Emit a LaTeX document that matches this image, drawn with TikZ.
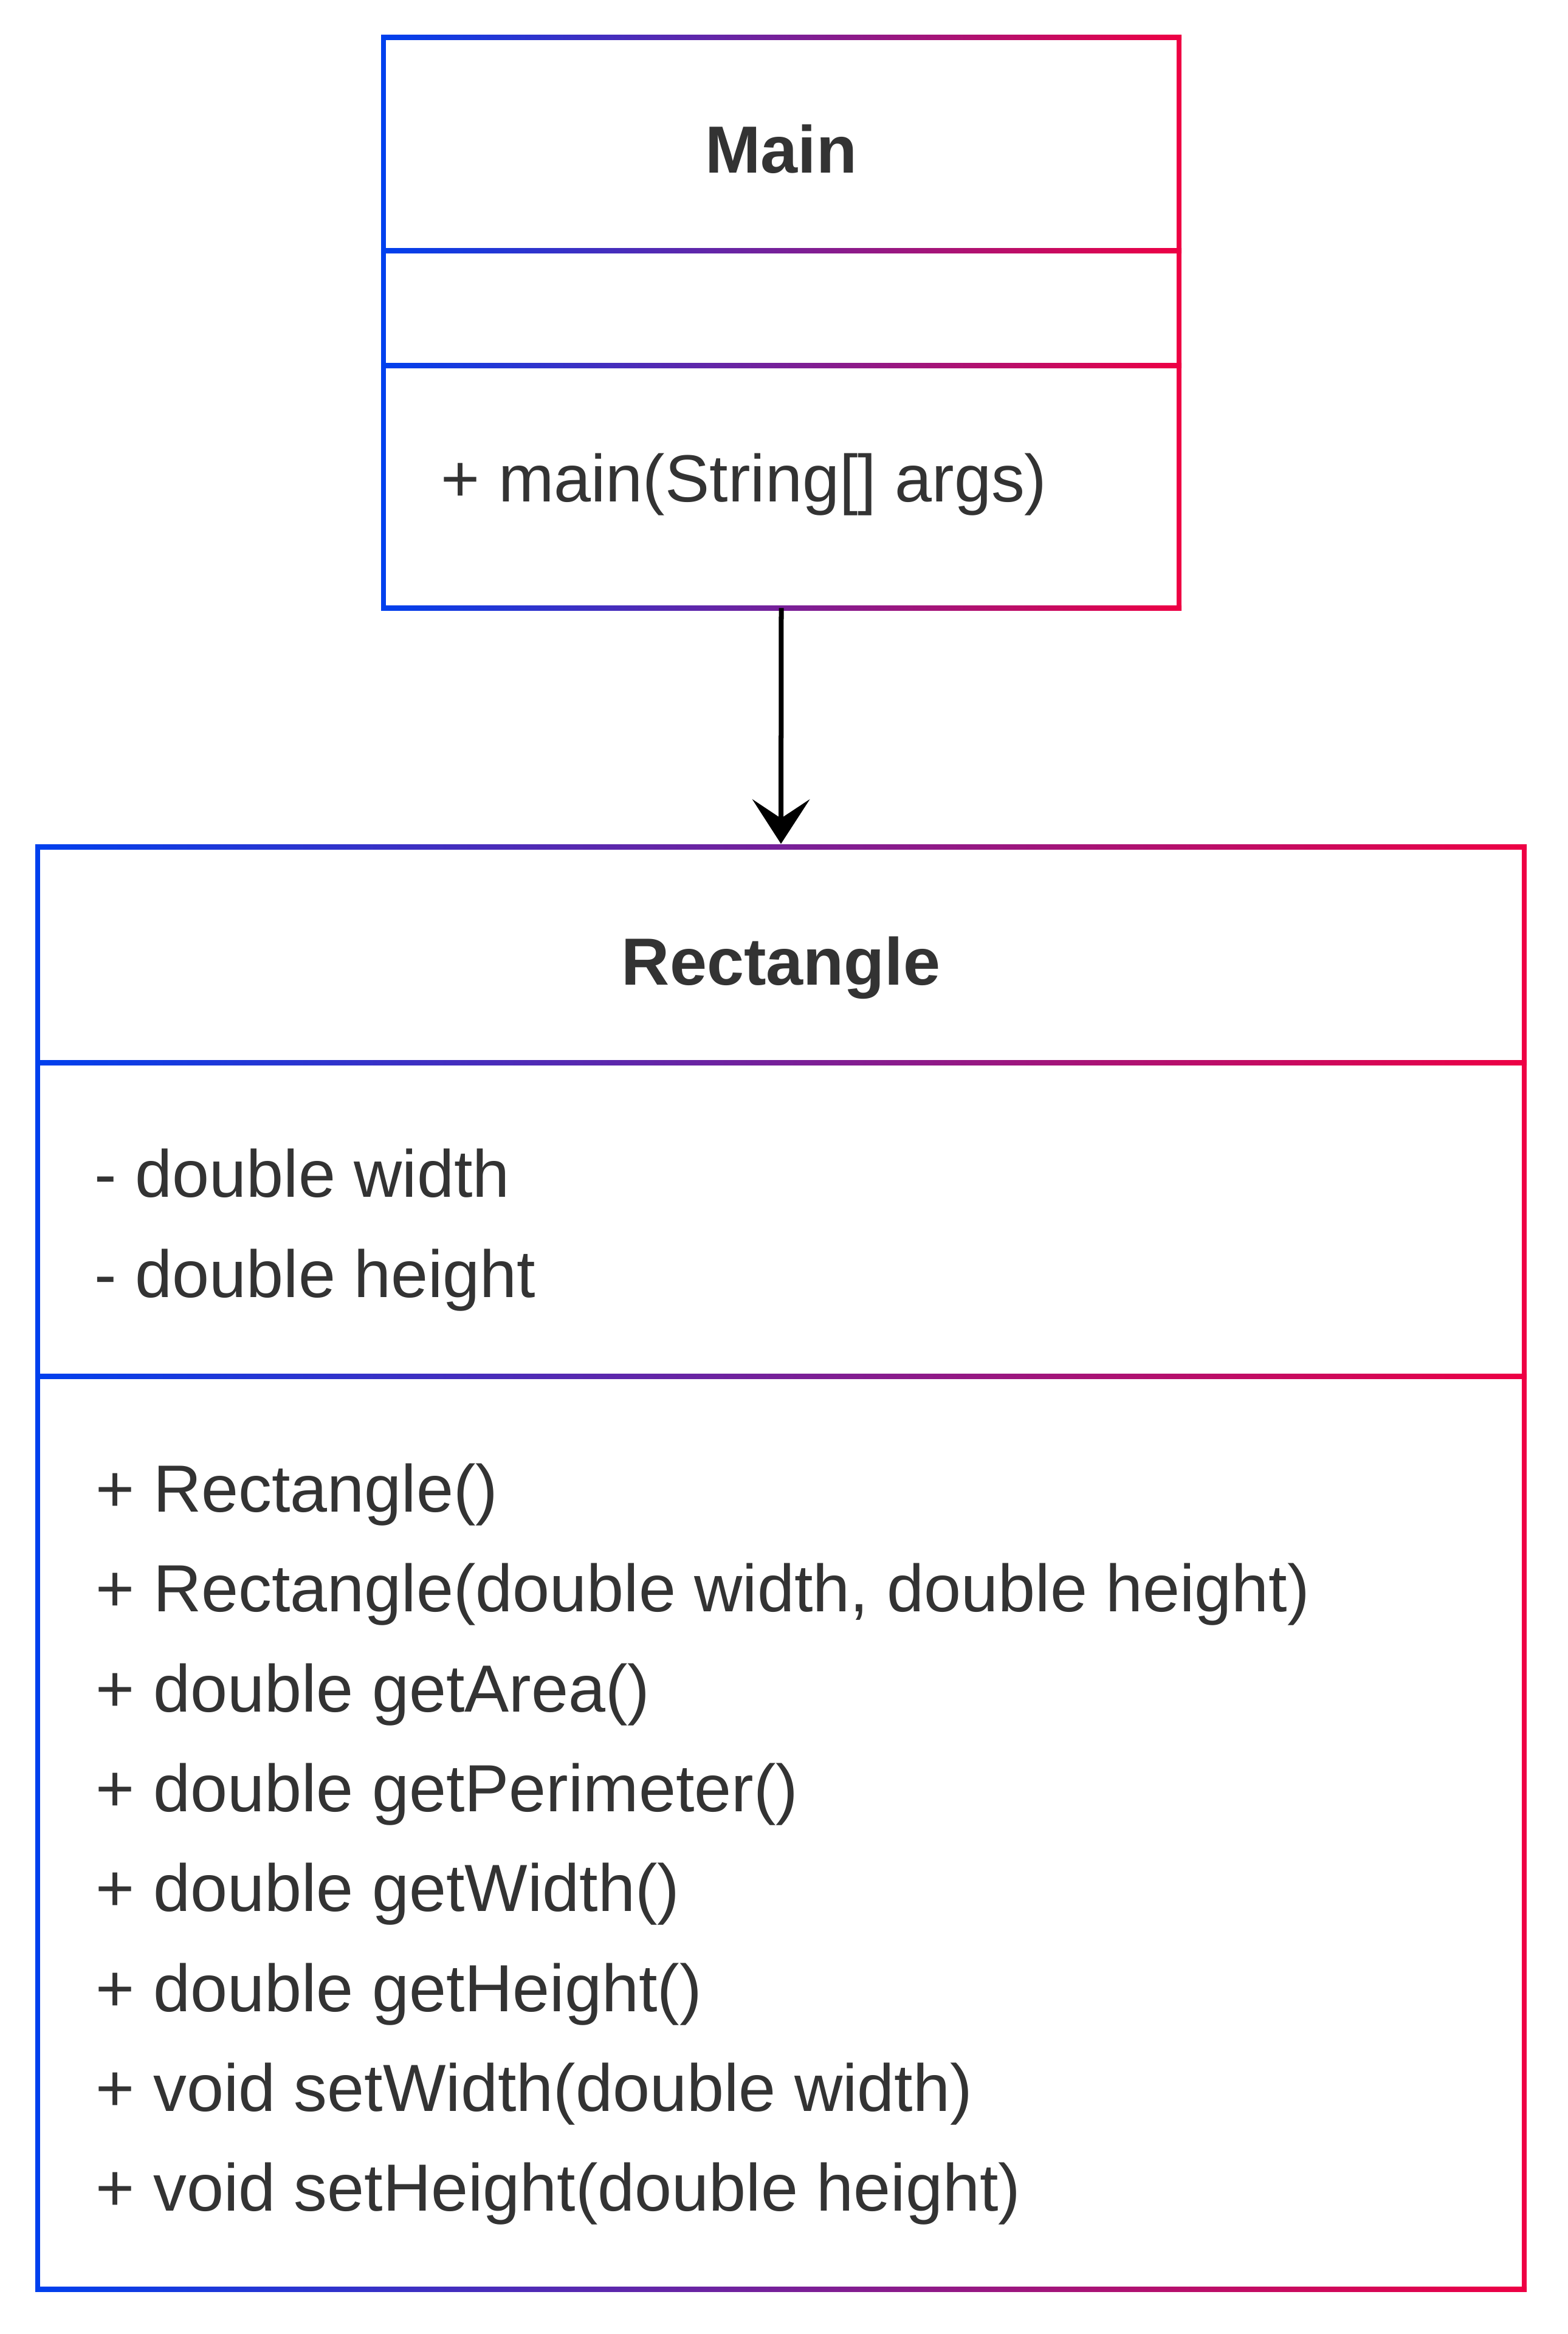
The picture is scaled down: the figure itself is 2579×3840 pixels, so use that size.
\documentclass[tikz,border=0pt]{standalone}
\usepackage{fontspec}
\setmainfont{Liberation Sans}
\usetikzlibrary{arrows.meta}
\definecolor{cblue}{HTML}{0040EE}
\definecolor{cred}{HTML}{EE0044}
\definecolor{txt}{HTML}{333333}
\newcommand\hgrad[3]{\shade[left color=cblue,right color=cred] (#1-4,#3-4) rectangle (#2+4,#3+4);}
\newcommand\vbarline[4]{\fill[#1] (#2-4,#3-4) rectangle (#2+4,#4+4);}
\begin{document}
\begin{tikzpicture}[x=0.01cm,y=-0.01cm,
  boxarea/.style={draw=none, inner sep=0pt, outer sep=0pt},
  title/.style={anchor=base, inner sep=0pt, text=txt, font=\fontsize{31.2}{38}\selectfont\bfseries},
  member/.style={anchor=base west, inner sep=0pt, text=txt, font=\fontsize{31.2}{38}\selectfont},
  link/.style={line width=0.08cm, shorten >=0.04cm, -{Stealth[length=0.735cm,width=0.95cm,inset=0.315cm,line width=0pt 0]}}]
\useasboundingbox[fill=white] (0,0) rectangle (2579,3840);
% boxes (areas)
\node[boxarea, minimum width=13.09cm, minimum height=9.38cm] (main) at (1285.5,531) {};
\node[boxarea, minimum width=24.46cm, minimum height=23.73cm] (rect) at (1285,2579.5) {};
% Main box lines
\hgrad{631}{1940}{62}
\hgrad{631}{1940}{413}
\hgrad{631}{1940}{602}
\hgrad{631}{1940}{1000}
\vbarline{cblue}{631}{62}{1000}
\vbarline{cred}{1940}{62}{1000}
% Rectangle box lines
\hgrad{62}{2508}{1393}
\hgrad{62}{2508}{1748}
\hgrad{62}{2508}{2264}
\hgrad{62}{2508}{3766}
\vbarline{cblue}{62}{1393}{3766}
\vbarline{cred}{2508}{1393}{3766}
% texts
\node[title] (tmain) at (1285.5,285) {Main};
\node[member] (mmain) at (725,826) {+ main(String[] args)};
\node[title] (trect) at (1285,1620) {Rectangle};
\node[member] (a1) at (155,1969) {- double width};
\node[member] (a2) at (155,2134) {- double height};
\node[member] (m1) at (157,2487) {+ Rectangle()};
\node[member] (m2) at (157,2651) {+ Rectangle(double width, double height)};
\node[member] (m3) at (157,2816) {+ double getArea()};
\node[member] (m4) at (157,2980) {+ double getPerimeter()};
\node[member] (m5) at (157,3144) {+ double getWidth()};
\node[member] (m6) at (157,3309) {+ double getHeight()};
\node[member] (m7) at (157,3473) {+ void setWidth(double width)};
\node[member] (m8) at (157,3637) {+ void setHeight(double height)};
% connector
\draw[link] (main.south) -- (rect.north);
\end{tikzpicture}
\end{document}
